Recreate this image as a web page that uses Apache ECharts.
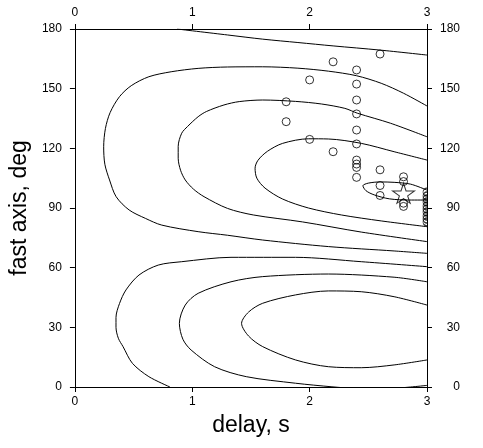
<!DOCTYPE html>
<html><head><meta charset="utf-8">
<script src="https://cdn.jsdelivr.net/npm/echarts@6/dist/echarts.min.js"></script>
<style>html,body{margin:0;padding:0;background:#fff}#c{width:483px;height:448px}</style>
</head><body><div id="c"></div>
<script>
// ---- data (delay [s], fast axis [deg]) ----
const xTicks = [0, 1, 2, 3];
const yTicks = [0, 30, 60, 90, 120, 150, 180];

const contourU5 = [[0.87,180],[1.3,177],[1.6,174.9],[1.9,173.2],[2.2,171.5],[2.6,169.4],[3.0,166.9]];
const contourU4 = [[3.0,141.3],[2.8,147.7],[2.61,152.7],[2.4,156.5],[2.16,158.8],[1.9,160.3],[1.6,161],[1.3,160.9],[1.05,160.2],[0.82,158.5],[0.63,156],[0.48,151.5],[0.38,146],[0.3,138],[0.26,130],[0.245,120.8],[0.255,112],[0.295,104.1],[0.351,95.7],[0.462,89],[0.6,84.8],[0.74,81.4],[1.05,78.1],[1.3,76.3],[1.6,73.9],[2.16,70.6],[2.72,68.4],[3.0,67.2]];
const contourU3 = [[3.0,125.8],[2.69,132.6],[2.41,137.6],[2.3,140.1],[2.1,142.3],[1.88,143.6],[1.6,144.3],[1.4,143.5],[1.27,141.8],[1.12,138.5],[1.05,135.9],[0.96,131],[0.91,127.6],[0.88,121],[0.88,115],[0.9,109],[0.94,104.1],[1.01,99.5],[1.1,95.7],[1.3,89.8],[1.52,86.5],[1.94,83],[2.44,77.9],[3.0,73.1]];
const contourU2 = [[3.0,114.1],[2.72,118.3],[2.44,122.5],[2.16,124.7],[1.99,124.8],[1.77,122.5],[1.64,118.5],[1.56,114],[1.535,110],[1.55,105],[1.62,100],[1.77,94.5],[1.99,90],[2.27,86.5],[2.61,83.5],[3.0,80.6]];
const contourU1 = [[3.0,99],[2.86,102],[2.72,102.9],[2.6,103.1],[2.5,102.5],[2.454,101.2],[2.48,98.7],[2.55,96.6],[2.68,94.6],[2.85,94],[3.0,94]];
const contourL1 = [[3.0,41.2],[2.72,45.4],[2.44,47.9],[2.16,48.3],[1.88,46.3],[1.6,42.1],[1.48,37.7],[1.42,32],[1.48,25.6],[1.6,20.3],[1.88,13.6],[2.16,10.2],[2.44,9.7],[2.72,11.1],[3.0,13.6]];
const contourL2 = [[3.0,52.9],[2.72,55.2],[2.16,56.8],[1.6,55.5],[1.33,52.9],[1.05,47.1],[0.94,41.2],[0.89,32],[0.92,24],[0.99,18.6],[1.19,10.2],[1.46,5.2],[1.88,1.9],[2.19,0.1],[2.4,-0.8],[2.6,-1.1],[2.86,0],[3.0,0.8]];
const contourL3 = [[3.0,60.5],[2.44,63],[1.88,65.2],[1.33,65.2],[0.91,63],[0.71,61.3],[0.546,56.3],[0.435,48.8],[0.38,42],[0.35,35],[0.35,30],[0.37,24.5],[0.41,20.3],[0.49,11.9],[0.63,5.2],[0.81,0]];

const measX = [2.6,2.2,2.4,2.0,2.4,1.8,2.4,2.4,1.8,2.4,2.0,2.4,2.2,2.4,2.4,2.4,2.6,2.4,2.8,2.8,2.6,2.6,2.8,2.8];
const measY = [167.4,163.5,159.4,154.4,152.3,143.4,144.3,137.3,133.4,129.2,124.5,122.2,118.3,114.1,112.1,110.4,109.2,105.4,105.7,103.3,101.3,96.3,92.4,90.8];
const edgeX = [3,3,3,3,3,3,3,3,3,3];
const edgeY = [98,96,94.5,93,91,89.5,88,86,84.5,83];
const bestX = [2.8];
const bestY = [97.4];

// ---- chart ----
const FONT = '"Liberation Sans", Arial, Helvetica, sans-serif';
const contours = [contourU5, contourU4, contourU3, contourU2, contourU1, contourL1, contourL2, contourL3];
const zip = (a, b) => a.map((v, i) => [v, b[i]]);

function xAx(pos, name) {
  return {
    type: 'value', position: pos, min: xTicks[0], max: xTicks[xTicks.length - 1], interval: 1,
    name: name, nameLocation: 'middle', nameGap: 27,
    nameTextStyle: { fontSize: 23, color: '#000', fontFamily: FONT },
    axisLine: { onZero: false, lineStyle: { color: '#000', width: 1 } },
    axisTick: { length: 5, lineStyle: { color: '#000', width: 1 } },
    axisLabel: { color: '#000', fontSize: 12, fontFamily: FONT, margin: pos === 'top' ? 10 : 9 },
    splitLine: { show: false }
  };
}
function yAx(pos, name) {
  return {
    type: 'value', position: pos, min: yTicks[0], max: yTicks[yTicks.length - 1], interval: 30,
    name: name, nameLocation: 'middle', nameGap: 37,
    nameTextStyle: { fontSize: 23, color: '#000', fontFamily: FONT },
    axisLine: { onZero: false, lineStyle: { color: '#000', width: 1 } },
    axisTick: { length: 5, lineStyle: { color: '#000', width: 1 } },
    axisLabel: { color: '#000', fontSize: 12, fontFamily: FONT,
      margin: pos === 'right' ? 33 : 13, align: 'right' },
    splitLine: { show: false }
  };
}

const series = contours.map(c => ({
  type: 'line', data: c, showSymbol: false, smooth: 0.3, clip: true, silent: true,
  lineStyle: { color: '#000', width: 1 }, xAxisIndex: 0, yAxisIndex: 0, z: 2
}));
series.push({
  type: 'scatter', data: zip(measX, measY), symbol: 'circle', symbolSize: 8,
  itemStyle: { color: 'rgba(0,0,0,0)', borderColor: '#000', borderWidth: 1 }, z: 3
});
series.push({
  type: 'scatter', data: zip(edgeX, edgeY),
  symbol: 'path://M50,0 A50,50 0 0 0 50,100', symbolSize: [4, 8], symbolOffset: [-2, 0],
  itemStyle: { color: 'rgba(0,0,0,0)', borderColor: '#000', borderWidth: 1 }, z: 3
});
series.push({
  type: 'scatter', data: zip(bestX, bestY),
  symbol: 'path://M50,0 L61,35 L98,35 L68,57 L79,91 L50,70 L21,91 L32,57 L2,35 L39,35 Z',
  symbolSize: [22, 20],
  itemStyle: { color: 'rgba(0,0,0,0)', borderColor: '#000', borderWidth: 1 }, z: 3
});

const chart = echarts.init(document.getElementById('c'), null, { renderer: 'canvas' });
chart.setOption({
  animation: false,
  backgroundColor: '#fff',
  grid: { left: 68, right: 56, top: 29, bottom: 61, containLabel: false },
  xAxis: [xAx('bottom', 'delay, s'), xAx('top', '')],
  yAxis: [yAx('left', 'fast axis, deg'), yAx('right', '')],
  series: series
});
</script>
</body></html>
